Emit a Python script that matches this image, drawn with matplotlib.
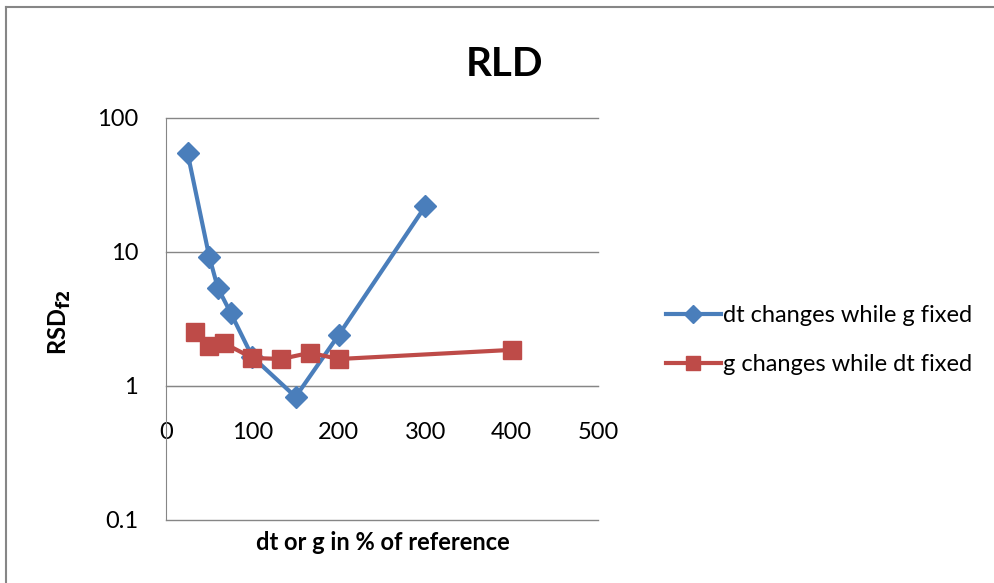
import matplotlib.pyplot as plt
from matplotlib.ticker import FixedLocator, NullLocator
from matplotlib.lines import Line2D

# data
dt_x = [25, 50, 60, 75, 100, 150, 200, 300]
dt_y = [54.7, 9.25, 5.4, 3.5, 1.65, 0.83, 2.41, 21.9]
g_x = [33.3, 50, 66.7, 100, 133.3, 166.7, 200, 400]
g_y = [2.54, 2.0, 2.09, 1.62, 1.59, 1.77, 1.59, 1.86]
x_ticks = [0, 100, 200, 300, 400, 500]
y_ticks = [0.1, 1, 10, 100]
y_tick_labels = ["0.1", "1", "10", "100"]

blue = "#4A7EBB"
red = "#BE4B48"
grey = "#868686"

plt.rcParams['font.family'] = ['Lato', 'DejaVu Sans']

fig = plt.figure(figsize=(9.95, 5.83), dpi=100)
ax = fig.add_axes([166 / 995, 1 - 520 / 583, 432 / 995, 402 / 583])

ax.plot(dt_x, dt_y, color=blue, lw=3, marker="D", ms=11, mec=blue, mfc=blue,
        label="dt changes while g fixed", zorder=3)
ax.plot(g_x, g_y, color=red, lw=3, marker="s", ms=13, mec=red, mfc=red,
        label="g changes while dt fixed", zorder=4)

ax.set_yscale("log")
ax.set_ylim(0.1, 100)
ax.set_xlim(0, 500)
ax.yaxis.set_major_locator(FixedLocator(y_ticks))
ax.yaxis.set_minor_locator(NullLocator())
ax.set_yticklabels(y_tick_labels)
ax.set_xticks(x_ticks)

# horizontal gridlines like excel
for yv in y_ticks:
    ax.axhline(yv, color=grey, lw=1, zorder=1, clip_on=False)

ax.spines["top"].set_visible(False)
ax.spines["right"].set_visible(False)
ax.spines["left"].set_color(grey)
ax.spines["bottom"].set_position(("data", 1))
ax.spines["bottom"].set_color(grey)
ax.tick_params(axis="x", length=0, pad=26, labelsize=17, colors="black")
ax.tick_params(axis="y", length=0, pad=20, labelsize=17, colors="black")

fig.text(383 / 995, 1 - 542 / 583, "dt or g in % of reference", fontsize=17,
         fontweight="bold", ha="center", va="center")
fig.text(60 / 995, 1 - 322 / 583, r"RSD$_{\mathbf{f2}}$", fontsize=17,
         fontweight="bold", ha="center", va="center", rotation=90)

fig.text(505 / 995, 1 - 65 / 583, "RLD", fontsize=29, fontweight="bold",
         ha="center", va="center")

leg = fig.legend(loc="center left", bbox_to_anchor=(645 / 995, 1 - 340 / 583),
                 frameon=False, fontsize=17, handlelength=2.3, handletextpad=0.1,
                 labelspacing=1.2, markerscale=0.8)

# outer chart border
fig.add_artist(Line2D([6 / 995, 6 / 995], [0, 1 - 7 / 583], color=grey, lw=1.5))
fig.add_artist(Line2D([6 / 995, 1], [1 - 7 / 583, 1 - 7 / 583], color=grey, lw=1.5))

fig.savefig("out.png", dpi=100)
